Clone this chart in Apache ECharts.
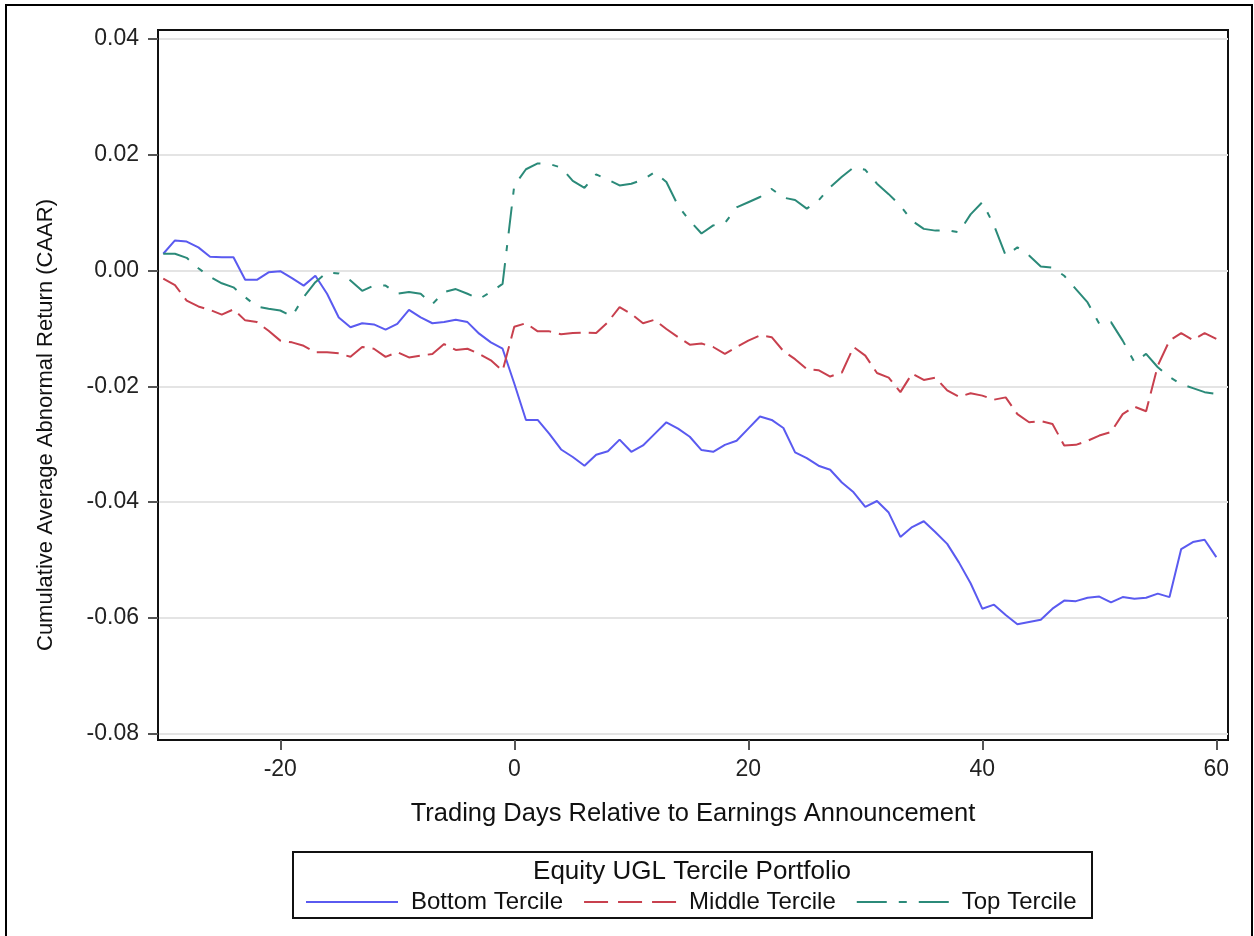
<!DOCTYPE html>
<html>
<head>
<meta charset="utf-8">
<script src="https://cdn.jsdelivr.net/npm/echarts@6/dist/echarts.min.js"></script>
<style>
html,body{margin:0;padding:0;background:#fff;}
#chart{width:1254px;height:936px;}
</style>
</head>
<body>
<div id="chart"></div>
<script>
// Trading days relative to earnings announcement
var days = [];
for (var d = -30; d <= 60; d++) days.push(d);

var xTicks = [-20, 0, 20, 40, 60];
var yTicks = [-0.08, -0.06, -0.04, -0.02, 0.00, 0.02, 0.04];

var seriesNames = ['Bottom Tercile', 'Middle Tercile', 'Top Tercile'];
var legendTitle = 'Equity UGL Tercile Portfolio';
var xTitle = 'Trading Days Relative to Earnings Announcement';
var yTitle = 'Cumulative Average Abnormal Return (CAAR)';

var bottomTercile = [
  0.0029, 0.0052, 0.0050, 0.0040, 0.0024, 0.0023, 0.0023, -0.0016, -0.0016, -0.0003,
  -0.0001, -0.0013, -0.0026, -0.0009, -0.0040, -0.0081, -0.0098, -0.0091, -0.0093, -0.0102,
  -0.0092, -0.0068, -0.0081, -0.0091, -0.0089, -0.0085, -0.0089, -0.0109, -0.0124, -0.0135,
  -0.0195, -0.0258, -0.0258, -0.0282, -0.0309, -0.0322, -0.0337, -0.0318, -0.0312, -0.0292,
  -0.0313, -0.0302, -0.0282, -0.0262, -0.0273, -0.0287, -0.0310, -0.0313, -0.0301, -0.0294,
  -0.0273, -0.0252, -0.0258, -0.0272, -0.0314, -0.0324, -0.0337, -0.0344, -0.0366, -0.0383,
  -0.0408, -0.0398, -0.0418, -0.0460, -0.0443, -0.0433, -0.0452, -0.0472, -0.0504, -0.0540,
  -0.0584, -0.0577, -0.0595, -0.0611, -0.0607, -0.0603, -0.0584, -0.0570, -0.0571, -0.0565,
  -0.0563, -0.0573, -0.0564, -0.0567, -0.0565, -0.0558, -0.0564, -0.0481, -0.0469, -0.0465,
  -0.0495
];

var middleTercile = [
  -0.0014, -0.0025, -0.0052, -0.0062, -0.0068, -0.0076, -0.0067, -0.0086, -0.0089, -0.0104,
  -0.0121, -0.0124, -0.0130, -0.0141, -0.0141, -0.0143, -0.0149, -0.0132, -0.0135, -0.0149,
  -0.0141, -0.0150, -0.0147, -0.0144, -0.0127, -0.0137, -0.0135, -0.0144, -0.0155, -0.0173,
  -0.0097, -0.0091, -0.0105, -0.0105, -0.0110, -0.0108, -0.0107, -0.0108, -0.0089, -0.0063,
  -0.0075, -0.0091, -0.0085, -0.0101, -0.0115, -0.0128, -0.0126, -0.0132, -0.0144, -0.0132,
  -0.0121, -0.0112, -0.0115, -0.0139, -0.0153, -0.0170, -0.0172, -0.0183, -0.0176, -0.0132,
  -0.0147, -0.0177, -0.0185, -0.0210, -0.0178, -0.0189, -0.0185, -0.0207, -0.0218, -0.0212,
  -0.0216, -0.0223, -0.0219, -0.0248, -0.0262, -0.0260, -0.0265, -0.0302, -0.0301, -0.0294,
  -0.0285, -0.0279, -0.0248, -0.0235, -0.0243, -0.0164, -0.0121, -0.0108, -0.0120, -0.0108,
  -0.0118
];

var topTercile = [
  0.0029, 0.0029, 0.0022, 0.0004, -0.0011, -0.0022, -0.0029, -0.0046, -0.0062, -0.0066,
  -0.0069, -0.0079, -0.0046, -0.0020, -0.0003, -0.0005, -0.0017, -0.0035, -0.0026, -0.0026,
  -0.0040, -0.0037, -0.0040, -0.0058, -0.0037, -0.0032, -0.0040, -0.0049, -0.0037, -0.0023,
  0.0147, 0.0175, 0.0185, 0.0184, 0.0178, 0.0155, 0.0143, 0.0166, 0.0157, 0.0147,
  0.0150, 0.0157, 0.0170, 0.0153, 0.0112, 0.0086, 0.0064, 0.0078, 0.0082, 0.0109,
  0.0118, 0.0127, 0.0141, 0.0126, 0.0122, 0.0107, 0.0121, 0.0144, 0.0162, 0.0178,
  0.0174, 0.0150, 0.0132, 0.0112, 0.0086, 0.0072, 0.0069, 0.0070, 0.0066, 0.0097,
  0.0118, 0.0078, 0.0026, 0.0040, 0.0026, 0.0007, 0.0005, -0.0009, -0.0032, -0.0055,
  -0.0092, -0.0089, -0.0121, -0.0158, -0.0144, -0.0167, -0.0184, -0.0196, -0.0203, -0.0210,
  -0.0213
];

function pairs(vals) {
  return days.map(function (d, i) { return [d, vals[i]]; });
}

var FONT = '"Liberation Sans", Arial, Helvetica, sans-serif';
var chart = echarts.init(document.getElementById('chart'), null, {renderer: 'canvas'});

var option = {
  backgroundColor: '#ffffff',
  animation: false,
  legend: {
    data: [
      {name: seriesNames[0]},
      {name: seriesNames[1], lineStyle: {type: [24, 10]}},
      {name: seriesNames[2], lineStyle: {type: [30, 12, 8, 12]}}
    ],
    left: 300,
    top: 885,
    itemWidth: 92,
    itemHeight: 20,
    itemGap: 20,
    itemStyle: {opacity: 0},
    textStyle: {fontFamily: FONT, fontSize: 24, color: '#111', padding: [0, 0, 0, 8]},
    selectedMode: false
  },
  grid: {
    left: 158, top: 30, right: 26, bottom: 196,
    show: true, borderColor: '#111', borderWidth: 2, backgroundColor: '#fff'
  },
  xAxis: {
    type: 'value',
    min: -30.45,
    max: 61.0,
    name: xTitle,
    nameLocation: 'middle',
    nameGap: 61,
    nameTextStyle: {fontFamily: FONT, fontSize: 25.5, color: '#111'},
    axisLine: {show: true, onZero: false, lineStyle: {color: '#111', width: 2}},
    axisTick: {show: true, customValues: xTicks, length: 10, lineStyle: {color: '#555', width: 2}},
    axisLabel: {customValues: xTicks, margin: 18, fontFamily: FONT, fontSize: 23, color: '#222'},
    splitLine: {show: false}
  },
  yAxis: {
    type: 'value',
    min: -0.08108,
    max: 0.04155,
    axisLine: {show: true, onZero: false, lineStyle: {color: '#111', width: 2}},
    axisTick: {show: true, customValues: yTicks, length: 10, lineStyle: {color: '#555', width: 2}},
    axisLabel: {
      customValues: yTicks, margin: 19, fontFamily: FONT, fontSize: 23, color: '#222',
      formatter: function (v) { return v.toFixed(2); }
    },
    splitLine: {show: true, lineStyle: {color: '#e4e4e4', width: 2}}
  },
  graphic: [
    {
      type: 'rect',
      shape: {x: 6, y: 5, width: 1246, height: 960},
      style: {fill: 'none', stroke: '#000', lineWidth: 2},
      silent: true
    },
    {
      type: 'rect',
      shape: {x: 293, y: 852, width: 799, height: 66},
      style: {fill: 'none', stroke: '#111', lineWidth: 2},
      silent: true
    },
    {
      type: 'text',
      x: 692, y: 872,
      style: {
        text: legendTitle, fontFamily: FONT, fontSize: 26, fill: '#111',
        align: 'center', verticalAlign: 'middle'
      },
      silent: true
    },
    {
      type: 'text',
      x: 46, y: 425,
      rotation: Math.PI / 2,
      style: {
        text: yTitle, fontFamily: FONT, fontSize: 22, fill: '#111',
        align: 'center', verticalAlign: 'middle'
      },
      silent: true
    }
  ],
  series: [
    {
      name: seriesNames[0], type: 'line', data: pairs(bottomTercile),
      showSymbol: false, symbol: 'none',
      lineStyle: {color: '#5a5af0', width: 2},
      itemStyle: {color: '#5a5af0'}
    },
    {
      name: seriesNames[1], type: 'line', data: pairs(middleTercile),
      showSymbol: false, symbol: 'none',
      lineStyle: {color: '#c8404e', width: 2, type: [22, 8]},
      itemStyle: {color: '#c8404e'}
    },
    {
      name: seriesNames[2], type: 'line', data: pairs(topTercile),
      showSymbol: false, symbol: 'none',
      lineStyle: {color: '#2b8a79', width: 2, type: [27, 12, 6, 12]},
      itemStyle: {color: '#2b8a79'}
    }
  ]
};
chart.setOption(option);
</script>
</body>
</html>
